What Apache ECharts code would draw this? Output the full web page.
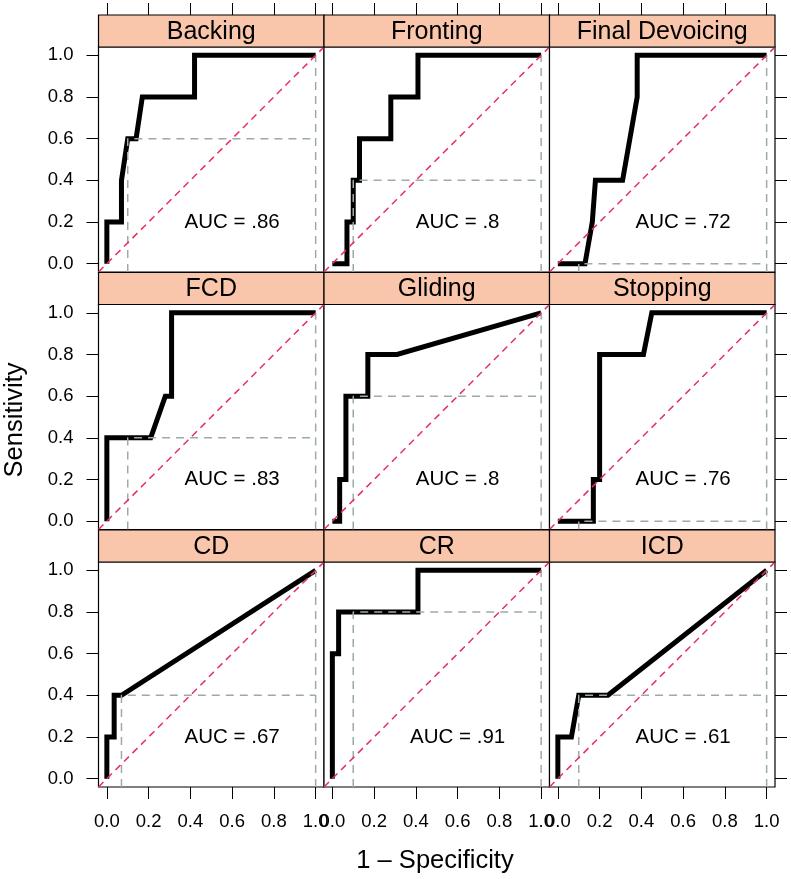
<!DOCTYPE html>
<html><head><meta charset="utf-8">
<script src="https://cdn.jsdelivr.net/npm/echarts@6/dist/echarts.min.js"></script>
<style>html,body{margin:0;padding:0;background:#fff}#c{width:791px;height:879px}</style>
</head><body><div id="c"></div>
<script>
// ---------- data ----------
const panelNames = ['Backing', 'Fronting', 'Final Devoicing', 'FCD', 'Gliding', 'Stopping', 'CD', 'CR', 'ICD'];
const aucLabels = ['.86', '.8', '.72', '.83', '.8', '.76', '.67', '.91', '.61'];
const tickValues = [0, 0.2, 0.4, 0.6, 0.8, 1.0];

// ROC curves: 1 - specificity (x) and sensitivity (y)
const backingX = [0, 0, 0.07, 0.07, 0.1, 0.14, 0.17, 0.42, 0.42, 1];
const backingY = [0, 0.2, 0.2, 0.4, 0.6, 0.6, 0.8, 0.8, 1, 1];
const frontingX = [0, 0.07, 0.07, 0.1, 0.1, 0.13, 0.13, 0.28, 0.28, 0.41, 0.41, 1];
const frontingY = [0, 0, 0.2, 0.2, 0.4, 0.4, 0.6, 0.6, 0.8, 0.8, 1, 1];
const finalDevoicingX = [0, 0.13, 0.165, 0.18, 0.31, 0.38, 0.38, 1];
const finalDevoicingY = [0, 0, 0.2, 0.4, 0.4, 0.8, 1, 1];
const fcdX = [0, 0, 0.21, 0.28, 0.31, 0.31, 1];
const fcdY = [0, 0.4, 0.4, 0.6, 0.6, 1, 1];
const glidingX = [0, 0.035, 0.035, 0.065, 0.065, 0.17, 0.17, 0.31, 1];
const glidingY = [0, 0, 0.2, 0.2, 0.6, 0.6, 0.8, 0.8, 1];
const stoppingX = [0, 0.17, 0.17, 0.2, 0.2, 0.41, 0.45, 1];
const stoppingY = [0, 0, 0.2, 0.2, 0.8, 0.8, 1, 1];
const cdX = [0, 0, 0.035, 0.035, 0.07, 1];
const cdY = [0, 0.2, 0.2, 0.4, 0.4, 1];
const crX = [0, 0, 0.03, 0.03, 0.41, 0.41, 1];
const crY = [0, 0.6, 0.6, 0.8, 0.8, 1, 1];
const icdX = [0, 0, 0.065, 0.1, 0.24, 1];
const icdY = [0, 0.2, 0.2, 0.4, 0.4, 1];

// reference cut-off (grey dashed) per panel
const cutoffX = [0.1, 0.1, 0.1, 0.1, 0.1, 0.1, 0.07, 0.1, 0.1];
const cutoffY = [0.6, 0.4, 0, 0.4, 0.6, 0, 0.4, 0.8, 0.4];

const rocX = [backingX, frontingX, finalDevoicingX, fcdX, glidingX, stoppingX, cdX, crX, icdX];
const rocY = [backingY, frontingY, finalDevoicingY, fcdY, glidingY, stoppingY, cdY, crY, icdY];

// ---------- layout ----------
const FONT = '"Liberation Sans", Arial, Helvetica, sans-serif';
const AXMIN = -0.04, AXMAX = 1.04;
const colLeft = [98.5, 324, 549.5];
const stripTop = [15, 272.5, 530];
const PW = 225.5, STRIP = 32, PH = 225;
const STRIP_COLOR = '#F9C6AC';

const grids = [], xAxes = [], yAxes = [], series = [], graphics = [];
const axisFmt = v => v.toFixed(1);

panelNames.forEach((name, i) => {
  const r = Math.floor(i / 3), c = i % 3;
  const left = colLeft[c], top = stripTop[r] + STRIP;
  grids.push({ left: left, top: top, width: PW, height: PH, show: true,
    borderColor: '#000', borderWidth: 1.2, backgroundColor: '#fff', containLabel: false });
  xAxes.push({ type: 'value', gridIndex: i, min: AXMIN, max: AXMAX,
    position: r === 0 ? 'top' : 'bottom', offset: r === 0 ? STRIP : 0,
    axisLine: { show: false, onZero: false }, splitLine: { show: false },
    axisTick: { show: r !== 1, length: 12, customValues: tickValues, lineStyle: { color: '#000', width: 1 } },
    axisLabel: { show: r === 2, customValues: tickValues, formatter: axisFmt, fontSize: 18.5,
      color: '#000', fontFamily: FONT, margin: 25 } });
  yAxes.push({ type: 'value', gridIndex: i, min: AXMIN, max: AXMAX,
    position: c === 2 ? 'right' : 'left',
    axisLine: { show: false, onZero: false }, splitLine: { show: false },
    axisTick: { show: c !== 1, length: 12, customValues: tickValues, lineStyle: { color: '#000', width: 1 } },
    axisLabel: { show: c === 0, customValues: tickValues, formatter: axisFmt, fontSize: 18.5,
      color: '#000', fontFamily: FONT, margin: 25 } });

  const roc = rocX[i].map((x, k) => [x, rocY[i][k]]);
  series.push({ type: 'line', xAxisIndex: i, yAxisIndex: i, data: roc, symbol: 'none',
    silent: true, z: 2,
    lineStyle: { color: '#000', width: 5, join: 'miter', cap: 'butt' } });
  series.push({ type: 'line', xAxisIndex: i, yAxisIndex: i, symbol: 'none', silent: true, z: 3,
    data: [[cutoffX[i], AXMIN], [cutoffX[i], cutoffY[i]], [1, cutoffY[i]]],
    lineStyle: { color: '#9DAAAA', width: 1.5, type: [8, 6] } });
  series.push({ type: 'line', xAxisIndex: i, yAxisIndex: i, symbol: 'none', silent: true, z: 3,
    data: [[1, AXMIN], [1, 1]],
    lineStyle: { color: '#9DAAAA', width: 1.5, type: [8, 6] } });
  series.push({ type: 'line', xAxisIndex: i, yAxisIndex: i, symbol: 'none', silent: true, z: 4,
    data: [[AXMIN, AXMIN], [AXMAX, AXMAX]],
    lineStyle: { color: '#E8305E', width: 1.5, type: [7, 5] } });
  series.push({ type: 'scatter', xAxisIndex: i, yAxisIndex: i, silent: true, z: 5,
    data: [[0.6, 0.2]], symbol: 'circle', symbolSize: 1, itemStyle: { color: '#ffffff' },
    label: { show: true, position: 'inside', formatter: 'AUC = ' + aucLabels[i],
      fontSize: 20.5, color: '#000000', textBorderWidth: 0, opacity: 1, fontFamily: FONT } });

  graphics.push({ type: 'rect', z: 10,
    shape: { x: left, y: stripTop[r], width: PW, height: STRIP },
    style: { fill: STRIP_COLOR, stroke: '#000', lineWidth: 1.2 } });
  graphics.push({ type: 'text', z: 11, x: left + PW / 2, y: stripTop[r] + STRIP / 2 + 1,
    style: { text: name, fontSize: 25, fontFamily: FONT, fill: '#000',
      align: 'center', verticalAlign: 'middle', textAlign: 'center', textVerticalAlign: 'middle' } });
});

graphics.push({ type: 'text', z: 11, x: 435, y: 861,
  style: { text: '1 \u2013 Specificity', fontSize: 25.5, fontFamily: FONT, fill: '#000',
    align: 'center', verticalAlign: 'middle', textAlign: 'center', textVerticalAlign: 'middle' } });
graphics.push({ type: 'text', z: 11, x: 15, y: 420, rotation: Math.PI / 2,
  style: { text: 'Sensitivity', fontSize: 25.5, fontFamily: FONT, fill: '#000',
    align: 'center', verticalAlign: 'middle', textAlign: 'center', textVerticalAlign: 'middle' } });

const chart = echarts.init(document.getElementById('c'), null, { renderer: 'canvas' });
chart.setOption({
  animation: false,
  backgroundColor: '#fff',
  grid: grids, xAxis: xAxes, yAxis: yAxes, series: series, graphic: graphics
});
</script></body></html>
